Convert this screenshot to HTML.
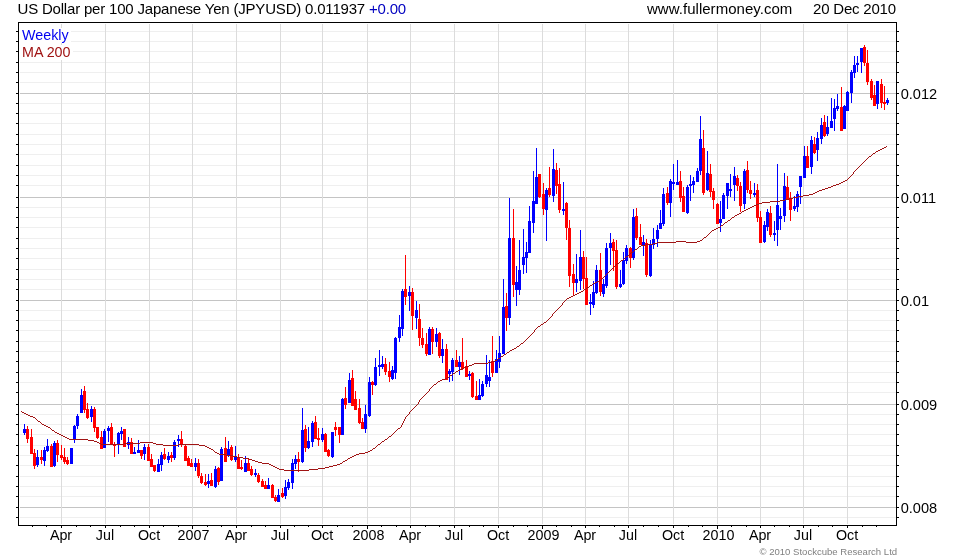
<!DOCTYPE html>
<html><head><meta charset="utf-8"><title>US Dollar per 100 Japanese Yen (JPYUSD)</title>
<style>
html,body{margin:0;padding:0;background:#fff;}
body{width:980px;height:560px;overflow:hidden;position:relative;font-family:"Liberation Sans",sans-serif;color:#000;}
.t{position:absolute;white-space:nowrap;line-height:1;}
svg{position:absolute;left:0;top:0;}
</style></head><body>

<svg width="980" height="560" viewBox="0 0 980 560" shape-rendering="crispEdges">
<rect x="20" y="31" width="876" height="1" fill="#efefef"/>
<rect x="20" y="41" width="876" height="1" fill="#efefef"/>
<rect x="20" y="51" width="876" height="1" fill="#efefef"/>
<rect x="20" y="62" width="876" height="1" fill="#efefef"/>
<rect x="20" y="72" width="876" height="1" fill="#efefef"/>
<rect x="20" y="82" width="876" height="1" fill="#efefef"/>
<rect x="20" y="93" width="876" height="1" fill="#c4c4c4"/>
<rect x="20" y="103" width="876" height="1" fill="#efefef"/>
<rect x="20" y="113" width="876" height="1" fill="#efefef"/>
<rect x="20" y="123" width="876" height="1" fill="#efefef"/>
<rect x="20" y="134" width="876" height="1" fill="#efefef"/>
<rect x="20" y="144" width="876" height="1" fill="#efefef"/>
<rect x="20" y="154" width="876" height="1" fill="#efefef"/>
<rect x="20" y="165" width="876" height="1" fill="#efefef"/>
<rect x="20" y="175" width="876" height="1" fill="#efefef"/>
<rect x="20" y="185" width="876" height="1" fill="#efefef"/>
<rect x="20" y="197" width="876" height="1" fill="#c4c4c4"/>
<rect x="20" y="207" width="876" height="1" fill="#efefef"/>
<rect x="20" y="217" width="876" height="1" fill="#efefef"/>
<rect x="20" y="227" width="876" height="1" fill="#efefef"/>
<rect x="20" y="238" width="876" height="1" fill="#efefef"/>
<rect x="20" y="248" width="876" height="1" fill="#efefef"/>
<rect x="20" y="258" width="876" height="1" fill="#efefef"/>
<rect x="20" y="269" width="876" height="1" fill="#efefef"/>
<rect x="20" y="279" width="876" height="1" fill="#efefef"/>
<rect x="20" y="289" width="876" height="1" fill="#efefef"/>
<rect x="20" y="300" width="876" height="1" fill="#c4c4c4"/>
<rect x="20" y="310" width="876" height="1" fill="#efefef"/>
<rect x="20" y="320" width="876" height="1" fill="#efefef"/>
<rect x="20" y="330" width="876" height="1" fill="#efefef"/>
<rect x="20" y="341" width="876" height="1" fill="#efefef"/>
<rect x="20" y="351" width="876" height="1" fill="#efefef"/>
<rect x="20" y="361" width="876" height="1" fill="#efefef"/>
<rect x="20" y="372" width="876" height="1" fill="#efefef"/>
<rect x="20" y="382" width="876" height="1" fill="#efefef"/>
<rect x="20" y="392" width="876" height="1" fill="#efefef"/>
<rect x="20" y="404" width="876" height="1" fill="#c4c4c4"/>
<rect x="20" y="414" width="876" height="1" fill="#efefef"/>
<rect x="20" y="424" width="876" height="1" fill="#efefef"/>
<rect x="20" y="434" width="876" height="1" fill="#efefef"/>
<rect x="20" y="445" width="876" height="1" fill="#efefef"/>
<rect x="20" y="455" width="876" height="1" fill="#efefef"/>
<rect x="20" y="465" width="876" height="1" fill="#efefef"/>
<rect x="20" y="476" width="876" height="1" fill="#efefef"/>
<rect x="20" y="486" width="876" height="1" fill="#efefef"/>
<rect x="20" y="496" width="876" height="1" fill="#efefef"/>
<rect x="20" y="507" width="876" height="1" fill="#c4c4c4"/>
<rect x="20" y="517" width="876" height="1" fill="#efefef"/>
<rect x="61" y="24" width="1" height="500" fill="#dcdcdc"/>
<rect x="105" y="24" width="1" height="500" fill="#dcdcdc"/>
<rect x="149" y="24" width="1" height="500" fill="#dcdcdc"/>
<rect x="192" y="24" width="1" height="500" fill="#dcdcdc"/>
<rect x="236" y="24" width="1" height="500" fill="#dcdcdc"/>
<rect x="280" y="24" width="1" height="500" fill="#dcdcdc"/>
<rect x="322" y="24" width="1" height="500" fill="#dcdcdc"/>
<rect x="367" y="24" width="1" height="500" fill="#dcdcdc"/>
<rect x="410" y="24" width="1" height="500" fill="#dcdcdc"/>
<rect x="454" y="24" width="1" height="500" fill="#dcdcdc"/>
<rect x="498" y="24" width="1" height="500" fill="#dcdcdc"/>
<rect x="542" y="24" width="1" height="500" fill="#dcdcdc"/>
<rect x="585" y="24" width="1" height="500" fill="#dcdcdc"/>
<rect x="628" y="24" width="1" height="500" fill="#dcdcdc"/>
<rect x="673" y="24" width="1" height="500" fill="#dcdcdc"/>
<rect x="717" y="24" width="1" height="500" fill="#dcdcdc"/>
<rect x="760" y="24" width="1" height="500" fill="#dcdcdc"/>
<rect x="803" y="24" width="1" height="500" fill="#dcdcdc"/>
<rect x="847" y="24" width="1" height="500" fill="#dcdcdc"/>
<rect x="18" y="22" width="879" height="1" fill="#000"/>
<rect x="18" y="525" width="879" height="1" fill="#000"/>
<rect x="18" y="22" width="1" height="504" fill="#000"/>
<rect x="896" y="22" width="1" height="504" fill="#000"/>
<rect x="16" y="31" width="2" height="1" fill="#000"/>
<rect x="897" y="31" width="2" height="1" fill="#000"/>
<rect x="16" y="41" width="2" height="1" fill="#000"/>
<rect x="897" y="41" width="2" height="1" fill="#000"/>
<rect x="16" y="51" width="2" height="1" fill="#000"/>
<rect x="897" y="51" width="2" height="1" fill="#000"/>
<rect x="16" y="62" width="2" height="1" fill="#000"/>
<rect x="897" y="62" width="2" height="1" fill="#000"/>
<rect x="16" y="72" width="2" height="1" fill="#000"/>
<rect x="897" y="72" width="2" height="1" fill="#000"/>
<rect x="16" y="82" width="2" height="1" fill="#000"/>
<rect x="897" y="82" width="2" height="1" fill="#000"/>
<rect x="16" y="93" width="2" height="1" fill="#000"/>
<rect x="897" y="93" width="2" height="1" fill="#000"/>
<rect x="16" y="103" width="2" height="1" fill="#000"/>
<rect x="897" y="103" width="2" height="1" fill="#000"/>
<rect x="16" y="113" width="2" height="1" fill="#000"/>
<rect x="897" y="113" width="2" height="1" fill="#000"/>
<rect x="16" y="123" width="2" height="1" fill="#000"/>
<rect x="897" y="123" width="2" height="1" fill="#000"/>
<rect x="16" y="134" width="2" height="1" fill="#000"/>
<rect x="897" y="134" width="2" height="1" fill="#000"/>
<rect x="16" y="144" width="2" height="1" fill="#000"/>
<rect x="897" y="144" width="2" height="1" fill="#000"/>
<rect x="16" y="154" width="2" height="1" fill="#000"/>
<rect x="897" y="154" width="2" height="1" fill="#000"/>
<rect x="16" y="165" width="2" height="1" fill="#000"/>
<rect x="897" y="165" width="2" height="1" fill="#000"/>
<rect x="16" y="175" width="2" height="1" fill="#000"/>
<rect x="897" y="175" width="2" height="1" fill="#000"/>
<rect x="16" y="185" width="2" height="1" fill="#000"/>
<rect x="897" y="185" width="2" height="1" fill="#000"/>
<rect x="16" y="197" width="2" height="1" fill="#000"/>
<rect x="897" y="197" width="2" height="1" fill="#000"/>
<rect x="16" y="207" width="2" height="1" fill="#000"/>
<rect x="897" y="207" width="2" height="1" fill="#000"/>
<rect x="16" y="217" width="2" height="1" fill="#000"/>
<rect x="897" y="217" width="2" height="1" fill="#000"/>
<rect x="16" y="227" width="2" height="1" fill="#000"/>
<rect x="897" y="227" width="2" height="1" fill="#000"/>
<rect x="16" y="238" width="2" height="1" fill="#000"/>
<rect x="897" y="238" width="2" height="1" fill="#000"/>
<rect x="16" y="248" width="2" height="1" fill="#000"/>
<rect x="897" y="248" width="2" height="1" fill="#000"/>
<rect x="16" y="258" width="2" height="1" fill="#000"/>
<rect x="897" y="258" width="2" height="1" fill="#000"/>
<rect x="16" y="269" width="2" height="1" fill="#000"/>
<rect x="897" y="269" width="2" height="1" fill="#000"/>
<rect x="16" y="279" width="2" height="1" fill="#000"/>
<rect x="897" y="279" width="2" height="1" fill="#000"/>
<rect x="16" y="289" width="2" height="1" fill="#000"/>
<rect x="897" y="289" width="2" height="1" fill="#000"/>
<rect x="16" y="300" width="2" height="1" fill="#000"/>
<rect x="897" y="300" width="2" height="1" fill="#000"/>
<rect x="16" y="310" width="2" height="1" fill="#000"/>
<rect x="897" y="310" width="2" height="1" fill="#000"/>
<rect x="16" y="320" width="2" height="1" fill="#000"/>
<rect x="897" y="320" width="2" height="1" fill="#000"/>
<rect x="16" y="330" width="2" height="1" fill="#000"/>
<rect x="897" y="330" width="2" height="1" fill="#000"/>
<rect x="16" y="341" width="2" height="1" fill="#000"/>
<rect x="897" y="341" width="2" height="1" fill="#000"/>
<rect x="16" y="351" width="2" height="1" fill="#000"/>
<rect x="897" y="351" width="2" height="1" fill="#000"/>
<rect x="16" y="361" width="2" height="1" fill="#000"/>
<rect x="897" y="361" width="2" height="1" fill="#000"/>
<rect x="16" y="372" width="2" height="1" fill="#000"/>
<rect x="897" y="372" width="2" height="1" fill="#000"/>
<rect x="16" y="382" width="2" height="1" fill="#000"/>
<rect x="897" y="382" width="2" height="1" fill="#000"/>
<rect x="16" y="392" width="2" height="1" fill="#000"/>
<rect x="897" y="392" width="2" height="1" fill="#000"/>
<rect x="16" y="404" width="2" height="1" fill="#000"/>
<rect x="897" y="404" width="2" height="1" fill="#000"/>
<rect x="16" y="414" width="2" height="1" fill="#000"/>
<rect x="897" y="414" width="2" height="1" fill="#000"/>
<rect x="16" y="424" width="2" height="1" fill="#000"/>
<rect x="897" y="424" width="2" height="1" fill="#000"/>
<rect x="16" y="434" width="2" height="1" fill="#000"/>
<rect x="897" y="434" width="2" height="1" fill="#000"/>
<rect x="16" y="445" width="2" height="1" fill="#000"/>
<rect x="897" y="445" width="2" height="1" fill="#000"/>
<rect x="16" y="455" width="2" height="1" fill="#000"/>
<rect x="897" y="455" width="2" height="1" fill="#000"/>
<rect x="16" y="465" width="2" height="1" fill="#000"/>
<rect x="897" y="465" width="2" height="1" fill="#000"/>
<rect x="16" y="476" width="2" height="1" fill="#000"/>
<rect x="897" y="476" width="2" height="1" fill="#000"/>
<rect x="16" y="486" width="2" height="1" fill="#000"/>
<rect x="897" y="486" width="2" height="1" fill="#000"/>
<rect x="16" y="496" width="2" height="1" fill="#000"/>
<rect x="897" y="496" width="2" height="1" fill="#000"/>
<rect x="16" y="507" width="2" height="1" fill="#000"/>
<rect x="897" y="507" width="2" height="1" fill="#000"/>
<rect x="16" y="517" width="2" height="1" fill="#000"/>
<rect x="897" y="517" width="2" height="1" fill="#000"/>
<rect x="32" y="526" width="1" height="1" fill="#000"/>
<rect x="46" y="526" width="1" height="1" fill="#000"/>
<rect x="61" y="526" width="1" height="2" fill="#000"/>
<rect x="76" y="526" width="1" height="1" fill="#000"/>
<rect x="90" y="526" width="1" height="1" fill="#000"/>
<rect x="105" y="526" width="1" height="2" fill="#000"/>
<rect x="120" y="526" width="1" height="1" fill="#000"/>
<rect x="134" y="526" width="1" height="1" fill="#000"/>
<rect x="149" y="526" width="1" height="2" fill="#000"/>
<rect x="163" y="526" width="1" height="1" fill="#000"/>
<rect x="178" y="526" width="1" height="1" fill="#000"/>
<rect x="192" y="526" width="1" height="3" fill="#000"/>
<rect x="207" y="526" width="1" height="1" fill="#000"/>
<rect x="221" y="526" width="1" height="1" fill="#000"/>
<rect x="236" y="526" width="1" height="2" fill="#000"/>
<rect x="251" y="526" width="1" height="1" fill="#000"/>
<rect x="265" y="526" width="1" height="1" fill="#000"/>
<rect x="280" y="526" width="1" height="2" fill="#000"/>
<rect x="294" y="526" width="1" height="1" fill="#000"/>
<rect x="308" y="526" width="1" height="1" fill="#000"/>
<rect x="322" y="526" width="1" height="2" fill="#000"/>
<rect x="337" y="526" width="1" height="1" fill="#000"/>
<rect x="352" y="526" width="1" height="1" fill="#000"/>
<rect x="367" y="526" width="1" height="3" fill="#000"/>
<rect x="381" y="526" width="1" height="1" fill="#000"/>
<rect x="396" y="526" width="1" height="1" fill="#000"/>
<rect x="410" y="526" width="1" height="2" fill="#000"/>
<rect x="425" y="526" width="1" height="1" fill="#000"/>
<rect x="439" y="526" width="1" height="1" fill="#000"/>
<rect x="454" y="526" width="1" height="2" fill="#000"/>
<rect x="469" y="526" width="1" height="1" fill="#000"/>
<rect x="483" y="526" width="1" height="1" fill="#000"/>
<rect x="498" y="526" width="1" height="2" fill="#000"/>
<rect x="513" y="526" width="1" height="1" fill="#000"/>
<rect x="527" y="526" width="1" height="1" fill="#000"/>
<rect x="542" y="526" width="1" height="3" fill="#000"/>
<rect x="556" y="526" width="1" height="1" fill="#000"/>
<rect x="571" y="526" width="1" height="1" fill="#000"/>
<rect x="585" y="526" width="1" height="2" fill="#000"/>
<rect x="599" y="526" width="1" height="1" fill="#000"/>
<rect x="614" y="526" width="1" height="1" fill="#000"/>
<rect x="628" y="526" width="1" height="2" fill="#000"/>
<rect x="643" y="526" width="1" height="1" fill="#000"/>
<rect x="658" y="526" width="1" height="1" fill="#000"/>
<rect x="673" y="526" width="1" height="2" fill="#000"/>
<rect x="688" y="526" width="1" height="1" fill="#000"/>
<rect x="702" y="526" width="1" height="1" fill="#000"/>
<rect x="717" y="526" width="1" height="3" fill="#000"/>
<rect x="731" y="526" width="1" height="1" fill="#000"/>
<rect x="746" y="526" width="1" height="1" fill="#000"/>
<rect x="760" y="526" width="1" height="2" fill="#000"/>
<rect x="774" y="526" width="1" height="1" fill="#000"/>
<rect x="789" y="526" width="1" height="1" fill="#000"/>
<rect x="803" y="526" width="1" height="2" fill="#000"/>
<rect x="818" y="526" width="1" height="1" fill="#000"/>
<rect x="832" y="526" width="1" height="1" fill="#000"/>
<rect x="847" y="526" width="1" height="2" fill="#000"/>
<rect x="862" y="526" width="1" height="1" fill="#000"/>
<rect x="876" y="526" width="1" height="1" fill="#000"/>
<rect x="19" y="28" width="52" height="15" fill="#fff"/>
<rect x="19" y="45" width="54" height="15" fill="#fff"/>
<rect x="24" y="424" width="1" height="11" fill="#0000ff"/>
<rect x="23" y="429" width="3" height="4" fill="#0000ff"/>
<rect x="27" y="426" width="1" height="17" fill="#ff0000"/>
<rect x="26" y="429" width="3" height="10" fill="#ff0000"/>
<rect x="31" y="429" width="1" height="25" fill="#ff0000"/>
<rect x="30" y="437" width="3" height="17" fill="#ff0000"/>
<rect x="34" y="449" width="1" height="20" fill="#ff0000"/>
<rect x="33" y="453" width="3" height="13" fill="#ff0000"/>
<rect x="37" y="450" width="1" height="17" fill="#0000ff"/>
<rect x="36" y="457" width="3" height="8" fill="#0000ff"/>
<rect x="41" y="450" width="1" height="14" fill="#ff0000"/>
<rect x="40" y="457" width="3" height="3" fill="#ff0000"/>
<rect x="44" y="447" width="1" height="19" fill="#0000ff"/>
<rect x="43" y="450" width="3" height="11" fill="#0000ff"/>
<rect x="47" y="439" width="1" height="13" fill="#0000ff"/>
<rect x="46" y="446" width="3" height="5" fill="#0000ff"/>
<rect x="51" y="444" width="1" height="23" fill="#ff0000"/>
<rect x="50" y="446" width="3" height="21" fill="#ff0000"/>
<rect x="54" y="441" width="1" height="26" fill="#0000ff"/>
<rect x="53" y="443" width="3" height="23" fill="#0000ff"/>
<rect x="57" y="440" width="1" height="22" fill="#ff0000"/>
<rect x="56" y="443" width="3" height="12" fill="#ff0000"/>
<rect x="61" y="445" width="1" height="15" fill="#ff0000"/>
<rect x="60" y="455" width="3" height="3" fill="#ff0000"/>
<rect x="64" y="448" width="1" height="16" fill="#ff0000"/>
<rect x="63" y="457" width="3" height="5" fill="#ff0000"/>
<rect x="67" y="457" width="1" height="8" fill="#ff0000"/>
<rect x="66" y="460" width="3" height="4" fill="#ff0000"/>
<rect x="71" y="448" width="1" height="16" fill="#0000ff"/>
<rect x="70" y="448" width="3" height="16" fill="#0000ff"/>
<rect x="74" y="425" width="1" height="18" fill="#0000ff"/>
<rect x="73" y="426" width="3" height="13" fill="#0000ff"/>
<rect x="77" y="414" width="1" height="15" fill="#0000ff"/>
<rect x="76" y="416" width="3" height="10" fill="#0000ff"/>
<rect x="81" y="389" width="1" height="24" fill="#0000ff"/>
<rect x="80" y="395" width="3" height="18" fill="#0000ff"/>
<rect x="84" y="386" width="1" height="27" fill="#ff0000"/>
<rect x="83" y="391" width="3" height="19" fill="#ff0000"/>
<rect x="87" y="403" width="1" height="16" fill="#ff0000"/>
<rect x="86" y="409" width="3" height="9" fill="#ff0000"/>
<rect x="91" y="406" width="1" height="16" fill="#0000ff"/>
<rect x="90" y="409" width="3" height="8" fill="#0000ff"/>
<rect x="94" y="407" width="1" height="25" fill="#ff0000"/>
<rect x="93" y="409" width="3" height="19" fill="#ff0000"/>
<rect x="97" y="427" width="1" height="12" fill="#ff0000"/>
<rect x="96" y="427" width="3" height="11" fill="#ff0000"/>
<rect x="101" y="431" width="1" height="18" fill="#ff0000"/>
<rect x="100" y="437" width="3" height="12" fill="#ff0000"/>
<rect x="104" y="429" width="1" height="19" fill="#0000ff"/>
<rect x="103" y="431" width="3" height="17" fill="#0000ff"/>
<rect x="108" y="426" width="1" height="16" fill="#0000ff"/>
<rect x="107" y="428" width="3" height="3" fill="#0000ff"/>
<rect x="111" y="423" width="1" height="22" fill="#ff0000"/>
<rect x="110" y="427" width="3" height="18" fill="#ff0000"/>
<rect x="114" y="442" width="1" height="15" fill="#ff0000"/>
<rect x="113" y="444" width="3" height="2" fill="#ff0000"/>
<rect x="118" y="432" width="1" height="22" fill="#0000ff"/>
<rect x="117" y="433" width="3" height="12" fill="#0000ff"/>
<rect x="121" y="427" width="1" height="13" fill="#0000ff"/>
<rect x="120" y="431" width="3" height="3" fill="#0000ff"/>
<rect x="124" y="429" width="1" height="18" fill="#ff0000"/>
<rect x="123" y="429" width="3" height="18" fill="#ff0000"/>
<rect x="128" y="437" width="1" height="12" fill="#0000ff"/>
<rect x="127" y="442" width="3" height="3" fill="#0000ff"/>
<rect x="131" y="438" width="1" height="16" fill="#ff0000"/>
<rect x="130" y="442" width="3" height="12" fill="#ff0000"/>
<rect x="134" y="447" width="1" height="7" fill="#0000ff"/>
<rect x="133" y="452" width="3" height="2" fill="#0000ff"/>
<rect x="138" y="440" width="1" height="13" fill="#0000ff"/>
<rect x="137" y="450" width="3" height="3" fill="#0000ff"/>
<rect x="141" y="450" width="1" height="9" fill="#ff0000"/>
<rect x="140" y="450" width="3" height="6" fill="#ff0000"/>
<rect x="144" y="444" width="1" height="16" fill="#0000ff"/>
<rect x="143" y="447" width="3" height="7" fill="#0000ff"/>
<rect x="148" y="444" width="1" height="17" fill="#ff0000"/>
<rect x="147" y="447" width="3" height="14" fill="#ff0000"/>
<rect x="151" y="454" width="1" height="13" fill="#ff0000"/>
<rect x="150" y="459" width="3" height="8" fill="#ff0000"/>
<rect x="154" y="465" width="1" height="7" fill="#ff0000"/>
<rect x="153" y="465" width="3" height="6" fill="#ff0000"/>
<rect x="158" y="459" width="1" height="13" fill="#0000ff"/>
<rect x="157" y="464" width="3" height="8" fill="#0000ff"/>
<rect x="161" y="452" width="1" height="19" fill="#0000ff"/>
<rect x="160" y="455" width="3" height="10" fill="#0000ff"/>
<rect x="164" y="448" width="1" height="12" fill="#ff0000"/>
<rect x="163" y="454" width="3" height="5" fill="#ff0000"/>
<rect x="168" y="452" width="1" height="11" fill="#0000ff"/>
<rect x="167" y="456" width="3" height="4" fill="#0000ff"/>
<rect x="171" y="452" width="1" height="10" fill="#ff0000"/>
<rect x="170" y="455" width="3" height="3" fill="#ff0000"/>
<rect x="174" y="440" width="1" height="20" fill="#0000ff"/>
<rect x="173" y="442" width="3" height="16" fill="#0000ff"/>
<rect x="178" y="435" width="1" height="12" fill="#0000ff"/>
<rect x="177" y="439" width="3" height="2" fill="#0000ff"/>
<rect x="181" y="431" width="1" height="16" fill="#ff0000"/>
<rect x="180" y="439" width="3" height="6" fill="#ff0000"/>
<rect x="185" y="445" width="1" height="16" fill="#ff0000"/>
<rect x="184" y="446" width="3" height="15" fill="#ff0000"/>
<rect x="188" y="456" width="1" height="10" fill="#ff0000"/>
<rect x="187" y="458" width="3" height="8" fill="#ff0000"/>
<rect x="191" y="459" width="1" height="8" fill="#ff0000"/>
<rect x="190" y="463" width="3" height="4" fill="#ff0000"/>
<rect x="195" y="458" width="1" height="13" fill="#0000ff"/>
<rect x="194" y="463" width="3" height="4" fill="#0000ff"/>
<rect x="198" y="459" width="1" height="19" fill="#ff0000"/>
<rect x="197" y="463" width="3" height="13" fill="#ff0000"/>
<rect x="201" y="473" width="1" height="11" fill="#ff0000"/>
<rect x="200" y="476" width="3" height="7" fill="#ff0000"/>
<rect x="205" y="474" width="1" height="12" fill="#ff0000"/>
<rect x="204" y="482" width="3" height="3" fill="#ff0000"/>
<rect x="208" y="474" width="1" height="14" fill="#0000ff"/>
<rect x="207" y="481" width="3" height="3" fill="#0000ff"/>
<rect x="211" y="473" width="1" height="13" fill="#ff0000"/>
<rect x="210" y="480" width="3" height="6" fill="#ff0000"/>
<rect x="215" y="466" width="1" height="22" fill="#0000ff"/>
<rect x="214" y="469" width="3" height="18" fill="#0000ff"/>
<rect x="218" y="467" width="1" height="18" fill="#ff0000"/>
<rect x="217" y="468" width="3" height="14" fill="#ff0000"/>
<rect x="221" y="447" width="1" height="34" fill="#0000ff"/>
<rect x="220" y="449" width="3" height="32" fill="#0000ff"/>
<rect x="225" y="437" width="1" height="25" fill="#ff0000"/>
<rect x="224" y="448" width="3" height="14" fill="#ff0000"/>
<rect x="228" y="441" width="1" height="16" fill="#0000ff"/>
<rect x="227" y="449" width="3" height="7" fill="#0000ff"/>
<rect x="231" y="445" width="1" height="16" fill="#ff0000"/>
<rect x="230" y="447" width="3" height="13" fill="#ff0000"/>
<rect x="235" y="446" width="1" height="16" fill="#0000ff"/>
<rect x="234" y="457" width="3" height="3" fill="#0000ff"/>
<rect x="238" y="454" width="1" height="15" fill="#ff0000"/>
<rect x="237" y="458" width="3" height="11" fill="#ff0000"/>
<rect x="241" y="460" width="1" height="10" fill="#ff0000"/>
<rect x="240" y="467" width="3" height="2" fill="#ff0000"/>
<rect x="245" y="456" width="1" height="16" fill="#0000ff"/>
<rect x="244" y="463" width="3" height="9" fill="#0000ff"/>
<rect x="248" y="459" width="1" height="12" fill="#ff0000"/>
<rect x="247" y="463" width="3" height="8" fill="#ff0000"/>
<rect x="251" y="466" width="1" height="10" fill="#ff0000"/>
<rect x="250" y="469" width="3" height="6" fill="#ff0000"/>
<rect x="255" y="469" width="1" height="8" fill="#0000ff"/>
<rect x="254" y="473" width="3" height="2" fill="#0000ff"/>
<rect x="258" y="473" width="1" height="10" fill="#ff0000"/>
<rect x="257" y="475" width="3" height="7" fill="#ff0000"/>
<rect x="262" y="479" width="1" height="8" fill="#ff0000"/>
<rect x="261" y="481" width="3" height="6" fill="#ff0000"/>
<rect x="265" y="481" width="1" height="8" fill="#ff0000"/>
<rect x="264" y="485" width="3" height="4" fill="#ff0000"/>
<rect x="268" y="478" width="1" height="11" fill="#0000ff"/>
<rect x="267" y="485" width="3" height="4" fill="#0000ff"/>
<rect x="272" y="484" width="1" height="14" fill="#ff0000"/>
<rect x="271" y="485" width="3" height="13" fill="#ff0000"/>
<rect x="275" y="495" width="1" height="7" fill="#ff0000"/>
<rect x="274" y="497" width="3" height="4" fill="#ff0000"/>
<rect x="278" y="489" width="1" height="13" fill="#0000ff"/>
<rect x="277" y="495" width="3" height="7" fill="#0000ff"/>
<rect x="282" y="488" width="1" height="10" fill="#ff0000"/>
<rect x="281" y="493" width="3" height="4" fill="#ff0000"/>
<rect x="285" y="480" width="1" height="19" fill="#0000ff"/>
<rect x="284" y="487" width="3" height="9" fill="#0000ff"/>
<rect x="288" y="479" width="1" height="11" fill="#0000ff"/>
<rect x="287" y="482" width="3" height="6" fill="#0000ff"/>
<rect x="292" y="459" width="1" height="30" fill="#0000ff"/>
<rect x="291" y="463" width="3" height="20" fill="#0000ff"/>
<rect x="295" y="455" width="1" height="14" fill="#0000ff"/>
<rect x="294" y="459" width="3" height="5" fill="#0000ff"/>
<rect x="298" y="452" width="1" height="20" fill="#ff0000"/>
<rect x="297" y="459" width="3" height="3" fill="#ff0000"/>
<rect x="302" y="408" width="1" height="55" fill="#0000ff"/>
<rect x="301" y="430" width="3" height="32" fill="#0000ff"/>
<rect x="305" y="425" width="1" height="27" fill="#ff0000"/>
<rect x="304" y="429" width="3" height="19" fill="#ff0000"/>
<rect x="308" y="427" width="1" height="22" fill="#0000ff"/>
<rect x="307" y="441" width="3" height="7" fill="#0000ff"/>
<rect x="312" y="421" width="1" height="26" fill="#0000ff"/>
<rect x="311" y="423" width="3" height="19" fill="#0000ff"/>
<rect x="315" y="416" width="1" height="23" fill="#ff0000"/>
<rect x="314" y="422" width="3" height="17" fill="#ff0000"/>
<rect x="318" y="428" width="1" height="18" fill="#ff0000"/>
<rect x="317" y="438" width="3" height="2" fill="#ff0000"/>
<rect x="322" y="428" width="1" height="14" fill="#0000ff"/>
<rect x="321" y="434" width="3" height="6" fill="#0000ff"/>
<rect x="325" y="433" width="1" height="19" fill="#ff0000"/>
<rect x="324" y="434" width="3" height="18" fill="#ff0000"/>
<rect x="328" y="449" width="1" height="8" fill="#ff0000"/>
<rect x="327" y="450" width="3" height="6" fill="#ff0000"/>
<rect x="332" y="432" width="1" height="26" fill="#0000ff"/>
<rect x="331" y="432" width="3" height="25" fill="#0000ff"/>
<rect x="335" y="422" width="1" height="14" fill="#ff0000"/>
<rect x="334" y="427" width="3" height="3" fill="#ff0000"/>
<rect x="339" y="427" width="1" height="16" fill="#ff0000"/>
<rect x="338" y="427" width="3" height="8" fill="#ff0000"/>
<rect x="342" y="398" width="1" height="37" fill="#0000ff"/>
<rect x="341" y="399" width="3" height="36" fill="#0000ff"/>
<rect x="345" y="387" width="1" height="22" fill="#ff0000"/>
<rect x="344" y="398" width="3" height="7" fill="#ff0000"/>
<rect x="349" y="373" width="1" height="30" fill="#0000ff"/>
<rect x="348" y="380" width="3" height="23" fill="#0000ff"/>
<rect x="352" y="370" width="1" height="36" fill="#ff0000"/>
<rect x="351" y="378" width="3" height="28" fill="#ff0000"/>
<rect x="355" y="391" width="1" height="19" fill="#ff0000"/>
<rect x="354" y="399" width="3" height="11" fill="#ff0000"/>
<rect x="359" y="399" width="1" height="25" fill="#ff0000"/>
<rect x="358" y="408" width="3" height="15" fill="#ff0000"/>
<rect x="362" y="418" width="1" height="11" fill="#ff0000"/>
<rect x="361" y="422" width="3" height="7" fill="#ff0000"/>
<rect x="365" y="405" width="1" height="28" fill="#0000ff"/>
<rect x="364" y="414" width="3" height="15" fill="#0000ff"/>
<rect x="369" y="377" width="1" height="40" fill="#0000ff"/>
<rect x="368" y="382" width="3" height="34" fill="#0000ff"/>
<rect x="372" y="381" width="1" height="14" fill="#ff0000"/>
<rect x="371" y="382" width="3" height="3" fill="#ff0000"/>
<rect x="375" y="358" width="1" height="28" fill="#0000ff"/>
<rect x="374" y="367" width="3" height="18" fill="#0000ff"/>
<rect x="379" y="350" width="1" height="26" fill="#0000ff"/>
<rect x="378" y="365" width="3" height="2" fill="#0000ff"/>
<rect x="382" y="356" width="1" height="13" fill="#0000ff"/>
<rect x="381" y="364" width="3" height="3" fill="#0000ff"/>
<rect x="385" y="358" width="1" height="17" fill="#ff0000"/>
<rect x="384" y="364" width="3" height="8" fill="#ff0000"/>
<rect x="389" y="362" width="1" height="20" fill="#ff0000"/>
<rect x="388" y="371" width="3" height="6" fill="#ff0000"/>
<rect x="392" y="366" width="1" height="14" fill="#0000ff"/>
<rect x="391" y="370" width="3" height="9" fill="#0000ff"/>
<rect x="395" y="337" width="1" height="42" fill="#0000ff"/>
<rect x="394" y="338" width="3" height="35" fill="#0000ff"/>
<rect x="399" y="315" width="1" height="27" fill="#0000ff"/>
<rect x="398" y="327" width="3" height="11" fill="#0000ff"/>
<rect x="402" y="289" width="1" height="47" fill="#0000ff"/>
<rect x="401" y="291" width="3" height="38" fill="#0000ff"/>
<rect x="405" y="255" width="1" height="50" fill="#ff0000"/>
<rect x="404" y="289" width="3" height="8" fill="#ff0000"/>
<rect x="409" y="286" width="1" height="25" fill="#0000ff"/>
<rect x="408" y="292" width="3" height="4" fill="#0000ff"/>
<rect x="412" y="288" width="1" height="42" fill="#ff0000"/>
<rect x="411" y="292" width="3" height="24" fill="#ff0000"/>
<rect x="416" y="301" width="1" height="28" fill="#0000ff"/>
<rect x="415" y="310" width="3" height="8" fill="#0000ff"/>
<rect x="419" y="304" width="1" height="42" fill="#ff0000"/>
<rect x="418" y="319" width="3" height="19" fill="#ff0000"/>
<rect x="422" y="328" width="1" height="20" fill="#ff0000"/>
<rect x="421" y="338" width="3" height="7" fill="#ff0000"/>
<rect x="426" y="333" width="1" height="23" fill="#ff0000"/>
<rect x="425" y="344" width="3" height="10" fill="#ff0000"/>
<rect x="429" y="327" width="1" height="28" fill="#0000ff"/>
<rect x="428" y="329" width="3" height="26" fill="#0000ff"/>
<rect x="432" y="327" width="1" height="27" fill="#ff0000"/>
<rect x="431" y="329" width="3" height="13" fill="#ff0000"/>
<rect x="436" y="328" width="1" height="19" fill="#0000ff"/>
<rect x="435" y="334" width="3" height="8" fill="#0000ff"/>
<rect x="439" y="332" width="1" height="26" fill="#ff0000"/>
<rect x="438" y="333" width="3" height="23" fill="#ff0000"/>
<rect x="442" y="339" width="1" height="24" fill="#0000ff"/>
<rect x="441" y="349" width="3" height="7" fill="#0000ff"/>
<rect x="446" y="344" width="1" height="36" fill="#ff0000"/>
<rect x="445" y="349" width="3" height="31" fill="#ff0000"/>
<rect x="449" y="369" width="1" height="13" fill="#0000ff"/>
<rect x="448" y="371" width="3" height="3" fill="#0000ff"/>
<rect x="452" y="358" width="1" height="23" fill="#0000ff"/>
<rect x="451" y="360" width="3" height="12" fill="#0000ff"/>
<rect x="456" y="350" width="1" height="17" fill="#ff0000"/>
<rect x="455" y="360" width="3" height="7" fill="#ff0000"/>
<rect x="459" y="356" width="1" height="19" fill="#0000ff"/>
<rect x="458" y="362" width="3" height="5" fill="#0000ff"/>
<rect x="462" y="338" width="1" height="32" fill="#ff0000"/>
<rect x="461" y="362" width="3" height="7" fill="#ff0000"/>
<rect x="466" y="360" width="1" height="17" fill="#ff0000"/>
<rect x="465" y="366" width="3" height="11" fill="#ff0000"/>
<rect x="469" y="371" width="1" height="9" fill="#0000ff"/>
<rect x="468" y="374" width="3" height="2" fill="#0000ff"/>
<rect x="472" y="372" width="1" height="26" fill="#ff0000"/>
<rect x="471" y="373" width="3" height="24" fill="#ff0000"/>
<rect x="476" y="381" width="1" height="19" fill="#ff0000"/>
<rect x="475" y="396" width="3" height="4" fill="#ff0000"/>
<rect x="479" y="379" width="1" height="21" fill="#0000ff"/>
<rect x="478" y="395" width="3" height="5" fill="#0000ff"/>
<rect x="482" y="381" width="1" height="16" fill="#0000ff"/>
<rect x="481" y="384" width="3" height="12" fill="#0000ff"/>
<rect x="486" y="355" width="1" height="32" fill="#0000ff"/>
<rect x="485" y="375" width="3" height="9" fill="#0000ff"/>
<rect x="489" y="360" width="1" height="27" fill="#0000ff"/>
<rect x="488" y="377" width="3" height="4" fill="#0000ff"/>
<rect x="492" y="336" width="1" height="41" fill="#ff0000"/>
<rect x="491" y="361" width="3" height="12" fill="#ff0000"/>
<rect x="496" y="350" width="1" height="23" fill="#0000ff"/>
<rect x="495" y="359" width="3" height="14" fill="#0000ff"/>
<rect x="499" y="336" width="1" height="32" fill="#0000ff"/>
<rect x="498" y="353" width="3" height="9" fill="#0000ff"/>
<rect x="503" y="279" width="1" height="75" fill="#0000ff"/>
<rect x="502" y="307" width="3" height="47" fill="#0000ff"/>
<rect x="506" y="293" width="1" height="38" fill="#ff0000"/>
<rect x="505" y="306" width="3" height="12" fill="#ff0000"/>
<rect x="509" y="198" width="1" height="127" fill="#0000ff"/>
<rect x="508" y="238" width="3" height="80" fill="#0000ff"/>
<rect x="513" y="209" width="1" height="88" fill="#ff0000"/>
<rect x="512" y="238" width="3" height="47" fill="#ff0000"/>
<rect x="516" y="266" width="1" height="40" fill="#0000ff"/>
<rect x="515" y="282" width="3" height="8" fill="#0000ff"/>
<rect x="519" y="240" width="1" height="55" fill="#0000ff"/>
<rect x="518" y="270" width="3" height="20" fill="#0000ff"/>
<rect x="523" y="229" width="1" height="45" fill="#0000ff"/>
<rect x="522" y="257" width="3" height="8" fill="#0000ff"/>
<rect x="526" y="242" width="1" height="31" fill="#0000ff"/>
<rect x="525" y="252" width="3" height="6" fill="#0000ff"/>
<rect x="529" y="206" width="1" height="47" fill="#0000ff"/>
<rect x="528" y="221" width="3" height="32" fill="#0000ff"/>
<rect x="533" y="171" width="1" height="62" fill="#0000ff"/>
<rect x="532" y="201" width="3" height="22" fill="#0000ff"/>
<rect x="536" y="148" width="1" height="56" fill="#0000ff"/>
<rect x="535" y="177" width="3" height="27" fill="#0000ff"/>
<rect x="539" y="174" width="1" height="24" fill="#ff0000"/>
<rect x="538" y="174" width="3" height="23" fill="#ff0000"/>
<rect x="543" y="183" width="1" height="32" fill="#ff0000"/>
<rect x="542" y="194" width="3" height="15" fill="#ff0000"/>
<rect x="546" y="188" width="1" height="53" fill="#0000ff"/>
<rect x="545" y="190" width="3" height="20" fill="#0000ff"/>
<rect x="549" y="167" width="1" height="30" fill="#ff0000"/>
<rect x="548" y="188" width="3" height="7" fill="#ff0000"/>
<rect x="553" y="149" width="1" height="53" fill="#0000ff"/>
<rect x="552" y="169" width="3" height="27" fill="#0000ff"/>
<rect x="556" y="163" width="1" height="31" fill="#ff0000"/>
<rect x="555" y="170" width="3" height="16" fill="#ff0000"/>
<rect x="559" y="168" width="1" height="45" fill="#ff0000"/>
<rect x="558" y="184" width="3" height="26" fill="#ff0000"/>
<rect x="563" y="182" width="1" height="33" fill="#0000ff"/>
<rect x="562" y="209" width="3" height="2" fill="#0000ff"/>
<rect x="566" y="202" width="1" height="38" fill="#ff0000"/>
<rect x="565" y="203" width="3" height="25" fill="#ff0000"/>
<rect x="569" y="220" width="1" height="67" fill="#ff0000"/>
<rect x="568" y="228" width="3" height="48" fill="#ff0000"/>
<rect x="573" y="264" width="1" height="32" fill="#ff0000"/>
<rect x="572" y="274" width="3" height="9" fill="#ff0000"/>
<rect x="576" y="254" width="1" height="38" fill="#0000ff"/>
<rect x="575" y="279" width="3" height="4" fill="#0000ff"/>
<rect x="580" y="230" width="1" height="60" fill="#0000ff"/>
<rect x="579" y="257" width="3" height="24" fill="#0000ff"/>
<rect x="583" y="251" width="1" height="38" fill="#ff0000"/>
<rect x="582" y="257" width="3" height="22" fill="#ff0000"/>
<rect x="586" y="257" width="1" height="48" fill="#ff0000"/>
<rect x="585" y="278" width="3" height="27" fill="#ff0000"/>
<rect x="590" y="294" width="1" height="21" fill="#0000ff"/>
<rect x="589" y="302" width="3" height="2" fill="#0000ff"/>
<rect x="593" y="281" width="1" height="27" fill="#0000ff"/>
<rect x="592" y="292" width="3" height="13" fill="#0000ff"/>
<rect x="596" y="265" width="1" height="29" fill="#0000ff"/>
<rect x="595" y="270" width="3" height="23" fill="#0000ff"/>
<rect x="600" y="253" width="1" height="43" fill="#ff0000"/>
<rect x="599" y="270" width="3" height="22" fill="#ff0000"/>
<rect x="603" y="279" width="1" height="18" fill="#0000ff"/>
<rect x="602" y="284" width="3" height="10" fill="#0000ff"/>
<rect x="606" y="243" width="1" height="45" fill="#0000ff"/>
<rect x="605" y="248" width="3" height="38" fill="#0000ff"/>
<rect x="610" y="233" width="1" height="32" fill="#0000ff"/>
<rect x="609" y="243" width="3" height="5" fill="#0000ff"/>
<rect x="613" y="239" width="1" height="32" fill="#ff0000"/>
<rect x="612" y="242" width="3" height="9" fill="#ff0000"/>
<rect x="616" y="240" width="1" height="49" fill="#ff0000"/>
<rect x="615" y="250" width="3" height="37" fill="#ff0000"/>
<rect x="620" y="270" width="1" height="18" fill="#0000ff"/>
<rect x="619" y="284" width="3" height="3" fill="#0000ff"/>
<rect x="623" y="252" width="1" height="33" fill="#0000ff"/>
<rect x="622" y="260" width="3" height="24" fill="#0000ff"/>
<rect x="626" y="245" width="1" height="19" fill="#0000ff"/>
<rect x="625" y="248" width="3" height="13" fill="#0000ff"/>
<rect x="630" y="247" width="1" height="21" fill="#ff0000"/>
<rect x="629" y="248" width="3" height="10" fill="#ff0000"/>
<rect x="633" y="209" width="1" height="51" fill="#0000ff"/>
<rect x="632" y="217" width="3" height="41" fill="#0000ff"/>
<rect x="636" y="208" width="1" height="32" fill="#ff0000"/>
<rect x="635" y="216" width="3" height="22" fill="#ff0000"/>
<rect x="640" y="224" width="1" height="21" fill="#ff0000"/>
<rect x="639" y="237" width="3" height="8" fill="#ff0000"/>
<rect x="643" y="235" width="1" height="21" fill="#0000ff"/>
<rect x="642" y="242" width="3" height="3" fill="#0000ff"/>
<rect x="646" y="239" width="1" height="38" fill="#ff0000"/>
<rect x="645" y="243" width="3" height="32" fill="#ff0000"/>
<rect x="650" y="240" width="1" height="37" fill="#0000ff"/>
<rect x="649" y="244" width="3" height="32" fill="#0000ff"/>
<rect x="653" y="228" width="1" height="21" fill="#0000ff"/>
<rect x="652" y="239" width="3" height="6" fill="#0000ff"/>
<rect x="657" y="225" width="1" height="22" fill="#0000ff"/>
<rect x="656" y="230" width="3" height="9" fill="#0000ff"/>
<rect x="660" y="210" width="1" height="19" fill="#0000ff"/>
<rect x="659" y="223" width="3" height="6" fill="#0000ff"/>
<rect x="663" y="188" width="1" height="38" fill="#0000ff"/>
<rect x="662" y="194" width="3" height="30" fill="#0000ff"/>
<rect x="667" y="187" width="1" height="18" fill="#ff0000"/>
<rect x="666" y="193" width="3" height="10" fill="#ff0000"/>
<rect x="670" y="179" width="1" height="38" fill="#0000ff"/>
<rect x="669" y="181" width="3" height="22" fill="#0000ff"/>
<rect x="673" y="164" width="1" height="26" fill="#0000ff"/>
<rect x="672" y="182" width="3" height="2" fill="#0000ff"/>
<rect x="677" y="160" width="1" height="25" fill="#0000ff"/>
<rect x="676" y="182" width="3" height="3" fill="#0000ff"/>
<rect x="680" y="171" width="1" height="31" fill="#ff0000"/>
<rect x="679" y="181" width="3" height="17" fill="#ff0000"/>
<rect x="683" y="187" width="1" height="25" fill="#ff0000"/>
<rect x="682" y="196" width="3" height="16" fill="#ff0000"/>
<rect x="687" y="185" width="1" height="29" fill="#0000ff"/>
<rect x="686" y="187" width="3" height="26" fill="#0000ff"/>
<rect x="690" y="175" width="1" height="26" fill="#0000ff"/>
<rect x="689" y="184" width="3" height="2" fill="#0000ff"/>
<rect x="693" y="177" width="1" height="16" fill="#0000ff"/>
<rect x="692" y="181" width="3" height="4" fill="#0000ff"/>
<rect x="697" y="168" width="1" height="14" fill="#0000ff"/>
<rect x="696" y="171" width="3" height="11" fill="#0000ff"/>
<rect x="700" y="116" width="1" height="59" fill="#0000ff"/>
<rect x="699" y="139" width="3" height="32" fill="#0000ff"/>
<rect x="703" y="130" width="1" height="65" fill="#ff0000"/>
<rect x="702" y="148" width="3" height="45" fill="#ff0000"/>
<rect x="707" y="151" width="1" height="40" fill="#0000ff"/>
<rect x="706" y="173" width="3" height="17" fill="#0000ff"/>
<rect x="710" y="164" width="1" height="33" fill="#ff0000"/>
<rect x="709" y="174" width="3" height="18" fill="#ff0000"/>
<rect x="713" y="188" width="1" height="21" fill="#ff0000"/>
<rect x="712" y="191" width="3" height="9" fill="#ff0000"/>
<rect x="717" y="203" width="1" height="21" fill="#ff0000"/>
<rect x="716" y="204" width="3" height="20" fill="#ff0000"/>
<rect x="720" y="201" width="1" height="31" fill="#0000ff"/>
<rect x="719" y="219" width="3" height="4" fill="#0000ff"/>
<rect x="723" y="193" width="1" height="26" fill="#0000ff"/>
<rect x="722" y="195" width="3" height="24" fill="#0000ff"/>
<rect x="727" y="183" width="1" height="26" fill="#0000ff"/>
<rect x="726" y="183" width="3" height="13" fill="#0000ff"/>
<rect x="730" y="174" width="1" height="23" fill="#0000ff"/>
<rect x="729" y="189" width="3" height="2" fill="#0000ff"/>
<rect x="734" y="167" width="1" height="34" fill="#0000ff"/>
<rect x="733" y="176" width="3" height="9" fill="#0000ff"/>
<rect x="737" y="175" width="1" height="16" fill="#ff0000"/>
<rect x="736" y="178" width="3" height="8" fill="#ff0000"/>
<rect x="740" y="182" width="1" height="30" fill="#ff0000"/>
<rect x="739" y="186" width="3" height="20" fill="#ff0000"/>
<rect x="744" y="169" width="1" height="40" fill="#0000ff"/>
<rect x="743" y="171" width="3" height="33" fill="#0000ff"/>
<rect x="747" y="161" width="1" height="32" fill="#ff0000"/>
<rect x="746" y="170" width="3" height="20" fill="#ff0000"/>
<rect x="750" y="181" width="1" height="18" fill="#ff0000"/>
<rect x="749" y="190" width="3" height="4" fill="#ff0000"/>
<rect x="754" y="183" width="1" height="14" fill="#0000ff"/>
<rect x="753" y="193" width="3" height="2" fill="#0000ff"/>
<rect x="757" y="184" width="1" height="38" fill="#ff0000"/>
<rect x="756" y="190" width="3" height="28" fill="#ff0000"/>
<rect x="760" y="211" width="1" height="32" fill="#ff0000"/>
<rect x="759" y="217" width="3" height="26" fill="#ff0000"/>
<rect x="764" y="221" width="1" height="22" fill="#0000ff"/>
<rect x="763" y="225" width="3" height="17" fill="#0000ff"/>
<rect x="767" y="209" width="1" height="22" fill="#0000ff"/>
<rect x="766" y="212" width="3" height="15" fill="#0000ff"/>
<rect x="770" y="206" width="1" height="31" fill="#ff0000"/>
<rect x="769" y="213" width="3" height="22" fill="#ff0000"/>
<rect x="774" y="221" width="1" height="20" fill="#0000ff"/>
<rect x="773" y="233" width="3" height="2" fill="#0000ff"/>
<rect x="777" y="164" width="1" height="82" fill="#0000ff"/>
<rect x="776" y="205" width="3" height="25" fill="#0000ff"/>
<rect x="780" y="208" width="1" height="22" fill="#0000ff"/>
<rect x="779" y="216" width="3" height="3" fill="#0000ff"/>
<rect x="784" y="173" width="1" height="49" fill="#0000ff"/>
<rect x="783" y="186" width="3" height="30" fill="#0000ff"/>
<rect x="787" y="176" width="1" height="24" fill="#ff0000"/>
<rect x="786" y="187" width="3" height="12" fill="#ff0000"/>
<rect x="790" y="192" width="1" height="29" fill="#ff0000"/>
<rect x="789" y="199" width="3" height="11" fill="#ff0000"/>
<rect x="794" y="196" width="1" height="15" fill="#0000ff"/>
<rect x="793" y="206" width="3" height="3" fill="#0000ff"/>
<rect x="797" y="191" width="1" height="21" fill="#0000ff"/>
<rect x="796" y="194" width="3" height="13" fill="#0000ff"/>
<rect x="800" y="176" width="1" height="28" fill="#0000ff"/>
<rect x="799" y="176" width="3" height="11" fill="#0000ff"/>
<rect x="804" y="146" width="1" height="32" fill="#0000ff"/>
<rect x="803" y="156" width="3" height="22" fill="#0000ff"/>
<rect x="807" y="146" width="1" height="22" fill="#ff0000"/>
<rect x="806" y="156" width="3" height="12" fill="#ff0000"/>
<rect x="811" y="136" width="1" height="38" fill="#0000ff"/>
<rect x="810" y="140" width="3" height="27" fill="#0000ff"/>
<rect x="814" y="137" width="1" height="17" fill="#ff0000"/>
<rect x="813" y="144" width="3" height="9" fill="#ff0000"/>
<rect x="817" y="132" width="1" height="29" fill="#0000ff"/>
<rect x="816" y="138" width="3" height="12" fill="#0000ff"/>
<rect x="821" y="118" width="1" height="26" fill="#0000ff"/>
<rect x="820" y="125" width="3" height="14" fill="#0000ff"/>
<rect x="824" y="115" width="1" height="22" fill="#ff0000"/>
<rect x="823" y="122" width="3" height="14" fill="#ff0000"/>
<rect x="827" y="116" width="1" height="20" fill="#0000ff"/>
<rect x="826" y="127" width="3" height="7" fill="#0000ff"/>
<rect x="831" y="98" width="1" height="30" fill="#0000ff"/>
<rect x="830" y="121" width="3" height="7" fill="#0000ff"/>
<rect x="834" y="99" width="1" height="32" fill="#0000ff"/>
<rect x="833" y="108" width="3" height="11" fill="#0000ff"/>
<rect x="837" y="94" width="1" height="17" fill="#0000ff"/>
<rect x="836" y="106" width="3" height="3" fill="#0000ff"/>
<rect x="841" y="87" width="1" height="44" fill="#ff0000"/>
<rect x="840" y="107" width="3" height="24" fill="#ff0000"/>
<rect x="844" y="105" width="1" height="24" fill="#0000ff"/>
<rect x="843" y="106" width="3" height="23" fill="#0000ff"/>
<rect x="847" y="91" width="1" height="20" fill="#0000ff"/>
<rect x="846" y="92" width="3" height="19" fill="#0000ff"/>
<rect x="851" y="70" width="1" height="33" fill="#0000ff"/>
<rect x="850" y="72" width="3" height="21" fill="#0000ff"/>
<rect x="854" y="56" width="1" height="22" fill="#0000ff"/>
<rect x="853" y="65" width="3" height="8" fill="#0000ff"/>
<rect x="857" y="56" width="1" height="16" fill="#0000ff"/>
<rect x="856" y="63" width="3" height="2" fill="#0000ff"/>
<rect x="861" y="48" width="1" height="25" fill="#0000ff"/>
<rect x="860" y="48" width="3" height="14" fill="#0000ff"/>
<rect x="864" y="45" width="1" height="21" fill="#ff0000"/>
<rect x="863" y="47" width="3" height="16" fill="#ff0000"/>
<rect x="867" y="50" width="1" height="35" fill="#ff0000"/>
<rect x="866" y="63" width="3" height="19" fill="#ff0000"/>
<rect x="871" y="79" width="1" height="21" fill="#ff0000"/>
<rect x="870" y="81" width="3" height="17" fill="#ff0000"/>
<rect x="874" y="85" width="1" height="21" fill="#ff0000"/>
<rect x="873" y="95" width="3" height="11" fill="#ff0000"/>
<rect x="877" y="81" width="1" height="28" fill="#0000ff"/>
<rect x="876" y="81" width="3" height="23" fill="#0000ff"/>
<rect x="881" y="79" width="1" height="29" fill="#ff0000"/>
<rect x="880" y="84" width="3" height="19" fill="#ff0000"/>
<rect x="884" y="86" width="1" height="24" fill="#ff0000"/>
<rect x="883" y="102" width="3" height="2" fill="#ff0000"/>
<rect x="887" y="98" width="1" height="7" fill="#0000ff"/>
<rect x="886" y="100" width="3" height="3" fill="#0000ff"/>
<path fill="#a01414" d="M886 146h1v1h-1zM884 147h2v1h-2zM882 148h2v1h-2zM880 149h2v1h-2zM878 150h2v1h-2zM876 151h2v1h-2zM875 152h1v1h-1zM873 153h2v1h-2zM872 154h1v1h-1zM871 155h1v1h-1zM869 156h2v1h-2zM868 157h1v1h-1zM867 158h1v1h-1zM866 159h1v1h-1zM865 160h1v1h-1zM864 161h1v1h-1zM863 162h1v1h-1zM862 163h1v1h-1zM861 164h1v1h-1zM860 165h1v1h-1zM859 166h1v1h-1zM858 167h1v1h-1zM857 168h1v1h-1zM856 169h1v1h-1zM855 170h1v1h-1zM854 171h1v1h-1zM853 172h1v1h-1zM853 173h1v1h-1zM852 174h1v1h-1zM851 175h1v1h-1zM850 176h1v1h-1zM849 177h1v1h-1zM848 178h1v1h-1zM847 179h1v1h-1zM845 180h2v1h-2zM843 181h2v1h-2zM841 182h2v1h-2zM839 183h2v1h-2zM836 184h3v1h-3zM833 185h3v1h-3zM831 186h2v1h-2zM828 187h3v1h-3zM825 188h3v1h-3zM822 189h3v1h-3zM819 190h3v1h-3zM817 191h2v1h-2zM815 192h2v1h-2zM813 193h2v1h-2zM809 194h4v1h-4zM803 195h6v1h-6zM798 196h5v1h-5zM793 197h5v1h-5zM789 198h4v1h-4zM785 199h4v1h-4zM780 200h5v1h-5zM770 201h10v1h-10zM762 202h8v1h-8zM759 203h3v1h-3zM756 204h3v1h-3zM754 205h2v1h-2zM752 206h2v1h-2zM750 207h2v1h-2zM748 208h2v1h-2zM746 209h2v1h-2zM744 210h2v1h-2zM742 211h2v1h-2zM741 212h1v1h-1zM739 213h2v1h-2zM737 214h2v1h-2zM735 215h2v1h-2zM734 216h1v1h-1zM732 217h2v1h-2zM731 218h1v1h-1zM730 219h1v1h-1zM728 220h2v1h-2zM727 221h1v1h-1zM725 222h2v1h-2zM724 223h1v1h-1zM723 224h1v1h-1zM721 225h2v1h-2zM720 226h1v1h-1zM718 227h2v1h-2zM716 228h2v1h-2zM714 229h2v1h-2zM712 230h2v1h-2zM711 231h1v1h-1zM710 232h1v1h-1zM709 233h1v1h-1zM708 234h1v1h-1zM707 235h1v1h-1zM706 236h1v1h-1zM704 237h2v1h-2zM703 238h1v1h-1zM702 239h1v1h-1zM700 240h2v1h-2zM676 241h10v1h-10zM697 241h3v1h-3zM657 242h19v1h-19zM686 242h11v1h-11zM653 243h4v1h-4zM646 244h7v1h-7zM641 245h5v1h-5zM639 246h2v1h-2zM638 247h1v1h-1zM637 248h1v1h-1zM635 249h2v1h-2zM634 250h1v1h-1zM633 251h1v1h-1zM631 252h2v1h-2zM630 253h1v1h-1zM629 254h1v1h-1zM628 255h1v1h-1zM626 256h2v1h-2zM625 257h1v1h-1zM624 258h1v1h-1zM623 259h1v1h-1zM621 260h2v1h-2zM620 261h1v1h-1zM619 262h1v1h-1zM617 263h2v1h-2zM616 264h1v1h-1zM615 265h1v1h-1zM614 266h1v1h-1zM613 267h1v1h-1zM612 268h1v1h-1zM611 269h1v1h-1zM610 270h1v1h-1zM609 271h1v1h-1zM608 272h1v1h-1zM607 273h1v1h-1zM606 274h1v1h-1zM605 275h1v1h-1zM604 276h1v1h-1zM603 277h1v1h-1zM602 278h1v1h-1zM601 279h1v1h-1zM599 280h2v1h-2zM597 281h2v1h-2zM595 282h2v1h-2zM593 283h2v1h-2zM592 284h1v1h-1zM590 285h2v1h-2zM589 286h1v1h-1zM587 287h2v1h-2zM586 288h1v1h-1zM584 289h2v1h-2zM583 290h1v1h-1zM581 291h2v1h-2zM579 292h2v1h-2zM577 293h2v1h-2zM575 294h2v1h-2zM573 295h2v1h-2zM571 296h2v1h-2zM569 297h2v1h-2zM567 298h2v1h-2zM566 299h1v1h-1zM565 300h1v1h-1zM564 301h1v1h-1zM563 302h1v1h-1zM562 303h1v1h-1zM562 304h1v1h-1zM561 305h1v1h-1zM560 306h1v1h-1zM559 307h1v1h-1zM558 308h1v1h-1zM557 309h1v1h-1zM556 310h1v1h-1zM555 311h1v1h-1zM554 312h1v1h-1zM553 313h1v1h-1zM552 314h1v1h-1zM552 315h1v1h-1zM551 316h1v1h-1zM550 317h1v1h-1zM549 318h1v1h-1zM548 319h1v1h-1zM547 320h1v1h-1zM546 321h1v1h-1zM544 322h2v1h-2zM543 323h1v1h-1zM541 324h2v1h-2zM540 325h1v1h-1zM538 326h2v1h-2zM537 327h1v1h-1zM536 328h1v1h-1zM535 329h1v1h-1zM534 330h1v1h-1zM534 331h1v1h-1zM533 332h1v1h-1zM532 333h1v1h-1zM531 334h1v1h-1zM530 335h1v1h-1zM529 336h1v1h-1zM528 337h1v1h-1zM527 338h1v1h-1zM526 339h1v1h-1zM525 340h1v1h-1zM524 341h1v1h-1zM523 342h1v1h-1zM521 343h2v1h-2zM520 344h1v1h-1zM519 345h1v1h-1zM517 346h2v1h-2zM516 347h1v1h-1zM514 348h2v1h-2zM512 349h2v1h-2zM510 350h2v1h-2zM509 351h1v1h-1zM507 352h2v1h-2zM506 353h1v1h-1zM504 354h2v1h-2zM503 355h1v1h-1zM501 356h2v1h-2zM500 357h1v1h-1zM498 358h2v1h-2zM497 359h1v1h-1zM495 360h2v1h-2zM492 361h3v1h-3zM488 362h4v1h-4zM474 363h14v1h-14zM472 364h2v1h-2zM469 365h3v1h-3zM466 366h3v1h-3zM464 367h2v1h-2zM462 368h2v1h-2zM460 369h2v1h-2zM458 370h2v1h-2zM456 371h2v1h-2zM455 372h1v1h-1zM453 373h2v1h-2zM452 374h1v1h-1zM450 375h2v1h-2zM449 376h1v1h-1zM447 377h2v1h-2zM445 378h2v1h-2zM442 379h3v1h-3zM440 380h2v1h-2zM438 381h2v1h-2zM437 382h1v1h-1zM436 383h1v1h-1zM434 384h2v1h-2zM433 385h1v1h-1zM432 386h1v1h-1zM431 387h1v1h-1zM430 388h1v1h-1zM429 389h1v1h-1zM429 390h1v1h-1zM428 391h1v1h-1zM427 392h1v1h-1zM426 393h1v1h-1zM425 394h1v1h-1zM424 395h1v1h-1zM423 396h1v1h-1zM422 397h1v1h-1zM421 398h1v1h-1zM420 399h1v1h-1zM419 400h1v1h-1zM419 401h1v1h-1zM418 402h1v1h-1zM418 403h1v1h-1zM417 404h1v1h-1zM416 405h1v1h-1zM415 406h1v1h-1zM414 407h1v1h-1zM413 408h1v1h-1zM412 409h1v1h-1zM411 410h1v1h-1zM21 411h1v1h-1zM410 411h1v1h-1zM22 412h2v1h-2zM409 412h1v1h-1zM24 413h2v1h-2zM409 413h1v1h-1zM26 414h2v1h-2zM408 414h1v1h-1zM28 415h2v1h-2zM407 415h1v1h-1zM30 416h3v1h-3zM406 416h1v1h-1zM33 417h2v1h-2zM405 417h1v1h-1zM35 418h1v1h-1zM405 418h1v1h-1zM36 419h1v1h-1zM404 419h1v1h-1zM37 420h1v1h-1zM404 420h1v1h-1zM38 421h2v1h-2zM403 421h1v1h-1zM40 422h1v1h-1zM403 422h1v1h-1zM41 423h1v1h-1zM402 423h1v1h-1zM42 424h2v1h-2zM402 424h1v1h-1zM44 425h2v1h-2zM401 425h1v1h-1zM46 426h2v1h-2zM401 426h1v1h-1zM48 427h2v1h-2zM400 427h1v1h-1zM50 428h1v1h-1zM398 428h2v1h-2zM51 429h1v1h-1zM397 429h1v1h-1zM52 430h2v1h-2zM396 430h1v1h-1zM54 431h1v1h-1zM395 431h1v1h-1zM55 432h2v1h-2zM394 432h1v1h-1zM57 433h2v1h-2zM393 433h1v1h-1zM59 434h2v1h-2zM392 434h1v1h-1zM61 435h2v1h-2zM391 435h1v1h-1zM63 436h2v1h-2zM389 436h2v1h-2zM65 437h2v1h-2zM388 437h1v1h-1zM67 438h2v1h-2zM387 438h1v1h-1zM69 439h19v1h-19zM385 439h2v1h-2zM88 440h6v1h-6zM384 440h1v1h-1zM94 441h3v1h-3zM382 441h2v1h-2zM97 442h2v1h-2zM140 442h13v1h-13zM381 442h1v1h-1zM99 443h2v1h-2zM124 443h16v1h-16zM153 443h3v1h-3zM380 443h1v1h-1zM101 444h23v1h-23zM156 444h7v1h-7zM178 444h21v1h-21zM378 444h2v1h-2zM163 445h15v1h-15zM199 445h6v1h-6zM377 445h1v1h-1zM205 446h2v1h-2zM376 446h1v1h-1zM207 447h2v1h-2zM375 447h1v1h-1zM209 448h2v1h-2zM373 448h2v1h-2zM211 449h2v1h-2zM372 449h1v1h-1zM213 450h1v1h-1zM370 450h2v1h-2zM214 451h1v1h-1zM368 451h2v1h-2zM215 452h2v1h-2zM365 452h3v1h-3zM217 453h2v1h-2zM359 453h6v1h-6zM219 454h7v1h-7zM356 454h3v1h-3zM226 455h7v1h-7zM354 455h2v1h-2zM233 456h4v1h-4zM352 456h2v1h-2zM237 457h6v1h-6zM350 457h2v1h-2zM243 458h6v1h-6zM348 458h2v1h-2zM249 459h3v1h-3zM347 459h1v1h-1zM252 460h3v1h-3zM345 460h2v1h-2zM255 461h3v1h-3zM343 461h2v1h-2zM258 462h4v1h-4zM342 462h1v1h-1zM262 463h7v1h-7zM340 463h2v1h-2zM269 464h2v1h-2zM337 464h3v1h-3zM271 465h2v1h-2zM333 465h4v1h-4zM273 466h2v1h-2zM329 466h4v1h-4zM275 467h2v1h-2zM325 467h4v1h-4zM277 468h2v1h-2zM318 468h7v1h-7zM279 469h5v1h-5zM309 469h9v1h-9zM284 470h25v1h-25z"/>
</svg>
<div class="t" style="left:17.5px;top:1px;font-size:15px;color:#000;letter-spacing:-0.19px;">US Dollar per 100 Japanese Yen (JPYUSD) 0.011937 <span style="color:#0000c0">+0.00</span></div>
<div class="t" style="left:647px;top:1px;font-size:15px;color:#000;letter-spacing:0.03px;">www.fullermoney.com</div>
<div class="t" style="left:813px;top:1px;font-size:15px;color:#000;letter-spacing:-0.2px;">20 Dec 2010</div>
<div class="t" style="left:22px;top:28px;font-size:14.3px;color:#0000f0;">Weekly</div>
<div class="t" style="left:22px;top:45px;font-size:14.3px;color:#a01414;">MA 200</div>
<div class="t" style="left:900.7px;top:87px;font-size:14.6px;color:#000;">0.012</div>
<div class="t" style="left:900.7px;top:191px;font-size:14.6px;color:#000;">0.011</div>
<div class="t" style="left:900.7px;top:294px;font-size:14.6px;color:#000;">0.01</div>
<div class="t" style="left:900.7px;top:398px;font-size:14.6px;color:#000;">0.009</div>
<div class="t" style="left:900.7px;top:501px;font-size:14.6px;color:#000;">0.008</div>
<div class="t" style="left:30.5px;width:61px;text-align:center;top:528px;font-size:14.3px;">Apr</div>
<div class="t" style="left:74.5px;width:61px;text-align:center;top:528px;font-size:14.3px;">Jul</div>
<div class="t" style="left:118.5px;width:61px;text-align:center;top:528px;font-size:14.3px;">Oct</div>
<div class="t" style="left:163.0px;width:61px;text-align:center;top:528px;font-size:14.3px;">2007</div>
<div class="t" style="left:205.5px;width:61px;text-align:center;top:528px;font-size:14.3px;">Apr</div>
<div class="t" style="left:249.5px;width:61px;text-align:center;top:528px;font-size:14.3px;">Jul</div>
<div class="t" style="left:291.5px;width:61px;text-align:center;top:528px;font-size:14.3px;">Oct</div>
<div class="t" style="left:338.0px;width:61px;text-align:center;top:528px;font-size:14.3px;">2008</div>
<div class="t" style="left:379.5px;width:61px;text-align:center;top:528px;font-size:14.3px;">Apr</div>
<div class="t" style="left:423.5px;width:61px;text-align:center;top:528px;font-size:14.3px;">Jul</div>
<div class="t" style="left:467.5px;width:61px;text-align:center;top:528px;font-size:14.3px;">Oct</div>
<div class="t" style="left:513.0px;width:61px;text-align:center;top:528px;font-size:14.3px;">2009</div>
<div class="t" style="left:554.5px;width:61px;text-align:center;top:528px;font-size:14.3px;">Apr</div>
<div class="t" style="left:597.5px;width:61px;text-align:center;top:528px;font-size:14.3px;">Jul</div>
<div class="t" style="left:642.5px;width:61px;text-align:center;top:528px;font-size:14.3px;">Oct</div>
<div class="t" style="left:688.0px;width:61px;text-align:center;top:528px;font-size:14.3px;">2010</div>
<div class="t" style="left:729.5px;width:61px;text-align:center;top:528px;font-size:14.3px;">Apr</div>
<div class="t" style="left:772.5px;width:61px;text-align:center;top:528px;font-size:14.3px;">Jul</div>
<div class="t" style="left:816.5px;width:61px;text-align:center;top:528px;font-size:14.3px;">Oct</div>
<div class="t" style="left:759.5px;top:547px;font-size:9.55px;color:#808080;">&copy; 2010 Stockcube Research Ltd</div>
</body></html>
